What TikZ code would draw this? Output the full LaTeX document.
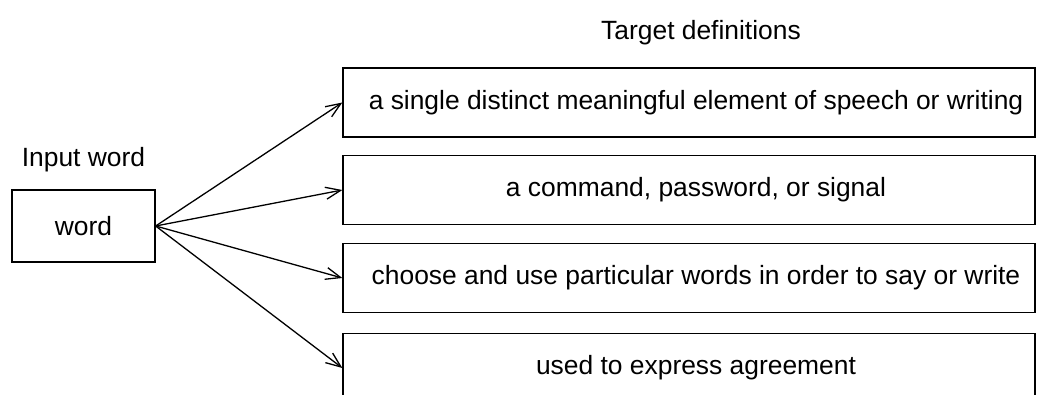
\documentclass[tikz,border=0pt]{standalone}
\usepackage{fontspec}
\setmainfont{Liberation Sans}
\usetikzlibrary{arrows.meta}
\begin{document}
\begin{tikzpicture}[x=1pt,y=-1pt,
  every node/.style={font=\fontsize{26.4}{30}\selectfont, inner sep=0pt},
  inbox/.style={draw, line width=1.3pt, minimum width=143pt, minimum height=72pt},
  defbox/.style={draw, line width=1.3pt, minimum width=692pt, minimum height=69pt},
  deftext/.style={xshift=7pt},
  link/.style={line width=1.3pt, -{Straight Barb[length=15pt,width=12pt,line width=1.3pt]}}
]
\useasboundingbox (0,0) rectangle (1037,394);
\clip (0,0) rectangle (1037,394);
\fill[white] (0,0) rectangle (1037,394);
\node[anchor=base] (ttl) at (701,39) {Target definitions};
\node[anchor=base] (itl) at (83.5,166) {Input word};
\node[inbox] (in) at (83.5,226) {word};
\node[defbox] (d1) at (689,102.5) {};
\node[defbox] (d2) at (689,190) {};
\node[defbox] (d3) at (689,278) {};
\node[defbox] (d4) at (689,368) {};
\node[deftext] (t1) at (d1.center) {a single distinct meaningful element of speech or writing};
\node[deftext] (t2) at (d2.center) {a command, password, or signal};
\node[deftext] (t3) at (d3.center) {choose and use particular words in order to say or write};
\node[deftext] (t4) at (d4.center) {used to express agreement};
\draw[link] (in.east) -- (d1.west);
\draw[link] (in.east) -- (d2.west);
\draw[link] (in.east) -- (d3.west);
\draw[link] (in.east) -- (d4.west);
\end{tikzpicture}
\end{document}
